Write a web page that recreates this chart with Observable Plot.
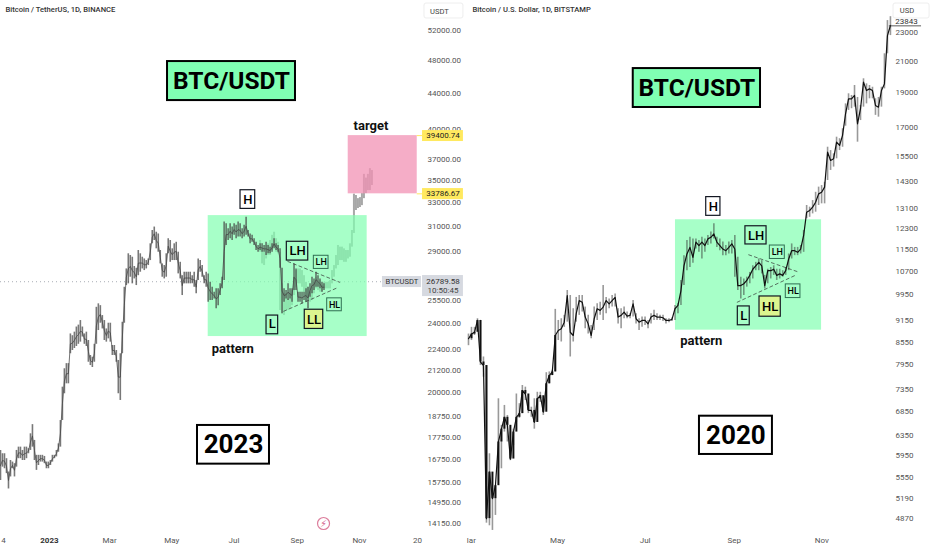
<!DOCTYPE html>
<html><head><meta charset="utf-8">
<style>
html,body{margin:0;padding:0;background:#fff;width:932px;height:550px;overflow:hidden}
#stage{position:relative;width:932px;height:550px;overflow:hidden}
#stage svg{position:absolute;top:0;overflow:visible}
</style>
<script src="https://cdn.jsdelivr.net/npm/d3@7"></script>
<script src="https://cdn.jsdelivr.net/npm/@observablehq/plot@0.6"></script>
</head><body><div id="stage"></div>
<script>
// ---------- left panel (BTC/USDT, 2023): one reading every 47 hours
const leftHigh = [17160,17010,17010,16790,16210,16710,16640,16570,17160,17310,
17310,17160,17310,17310,17240,17930,18370,17620,16940,16940,
16940,16940,16890,16640,16640,16710,16940,16940,17160,17460,
18570,20280,21290,21580,21580,23340,23230,23450,23770,23890,
24180,23770,23340,23450,22940,22050,21950,22710,25040,25270,
25150,24500,24180,23650,24010,24010,22640,22640,22340,21760,
22150,24070,26400,27710,28840,28710,28580,27890,27760,29090,
28840,28580,28450,28330,28450,29610,30670,30950,30530,30390,
29090,28080,27960,28840,30010,29870,29220,29610,29730,28960,
28200,27220,27470,27470,27470,27470,27220,27470,26870,28450,
28330,27960,27220,27470,27350,26750,26400,26060,
26290,26290,26640,27110,31360,31230,30810,31230,30950,31230,
31090,31360,31230,30810,31090,31770,30670,30390,30280,30010,
29730,29480,29610,29610,29480,29730,29480,29350,29610,30010,
29610,29480,29220,27760,26290,26170,26640,26290,26290,28080,
27710,26060,26060,26060,26060,26290,26400,26640,27110,26990,
27470,27220,26990,26750,26640];
const leftLow = [15850,16420,16350,16140,15500,16000,16350,16000,16420,16790,
16790,16710,16710,16790,17010,17160,17310,16710,16280,16490,
16640,16640,16570,16350,16350,16490,16640,16790,16870,17080,
17310,18570,19930,20460,20460,22150,22340,22460,22580,22710,
22840,23150,22710,22580,21660,21470,21360,21660,22710,23550,
24010,23650,22940,22840,23040,22840,22050,22050,21660,19930,
19580,22150,24010,26520,26640,27110,26640,26990,26520,27220,
27470,27710,27590,27710,27960,28330,29610,29870,29220,28960,
28080,27110,26990,27110,28840,28200,28330,28330,28330,27350,
26990,25830,26640,26640,26640,26640,26640,26400,25950,26870,
27470,27110,26640,26400,25380,25490,25490,25600,
24940,25150,25830,26290,26870,29480,29870,30010,29870,30280,
30010,30140,30140,30010,30140,30280,30140,29610,29730,29480,
29090,28960,29090,28960,28960,28710,28840,28840,28960,29220,
29090,28960,27760,24610,25380,25600,25490,25600,25380,26170,
26170,25380,25380,25270,25490,25380,24940,25720,25950,26170,
26400,26400,26290,26060,26170];
// faded projection drawn behind the pattern and target boxes
const ghostOffset = 130;
const ghostHigh = [29870,29220,28960,29480,29610,29870,30280,30530,30010,29730,
28960,26640,25950,25950,25600,25950,26170,27110,27590,27710,
27710,27590,27220,26750,26400,26060,26400,26750,27110,26750,
26870,26520,26750,26750,26750,26870,27590,27960,28710,29480,
29350,29350,29220,29090,29090,29610,30670,33760,33640,33360,
33450,33810,35570,35220,35570,36110,35930];
const ghostLow = [28960,28080,27960,28450,28710,28710,29090,29350,28960,28840,
24830,24610,24500,24830,24830,24940,25150,25830,26400,26640,
26640,26400,26060,25380,25720,25380,25490,25950,26290,26170,
26060,26060,26290,26290,26290,26290,26640,27110,27710,27960,
28330,28330,28200,28200,28450,28580,29350,30430,32330,32500,
32590,32750,33360,33810,34080,34080,34540];
const leftYTicks = [52000,48000,44000,40000,37000,35000,33000,31000,29000,25500,24000,22400,21200,20000,18750,17750,16750,15750,14950,14150];
const leftXDates = ["2022-11-17","2023-03-01","2023-05-01","2023-07-01","2023-09-01","2023-11-01","2023-12-28"];
const leftXLabels = ["4","Mar","May","Jul","Sep","Nov","20"];

// ---------- right panel (BTC/USD, 2020): one reading every 50 hours
const rightHigh = [8770,8960,8960,9210,9160,8150,7930,5980,5350,5400,7130,6550,6980,6760,6410,6470,7240,7020,7440,7400,
7050,6940,7130,7280,7280,7130,7750,7770,7810,9490,9160,9210,9310,10080,9920,9510,9860,9920,9920,9560,
9310,9010,9560,9660,9710,10240,9860,9810,9920,9970,9510,9510,9560,9410,9360,9760,9360,9210,9260,9260,
9160,9360,9460,9360,9310,9310,9210,9210,9230,9610,
9660,10410,11270,11830,11950,11890,11890,11830,11950,11890,12020,12150,12480,11950,11890,11770,11640,11770,11830,12020,
11210,10520,10460,10520,10680,10910,11030,11150,11090,10580,10790,10850,10910,10790,10790,10740,10850,11330,11700,11570,
11570,11640,12210,
13230,13160,13440,13800,14030,14100,14250,15940,15770,15610,16460,16380,16910,18310,18910,18810,19420,18690,18220,19840,
19520,19420,19310,18610,18690,19310,21490,23900,24200];
const rightLow = [8450,8590,8730,8920,7930,7640,4790,4750,4680,4910,5700,5700,6410,6210,5850,6140,6610,6700,6800,7090,
6800,6720,6470,6980,7050,6760,7400,7480,7680,7770,8590,8550,8960,9110,8150,8550,9110,9310,9410,8920,
8770,8640,8870,9160,9310,9160,9360,9510,9560,9560,9060,8920,9210,9210,9210,9260,9060,8870,8960,9010,
8920,9060,9160,9160,9160,9130,9060,9090,9130,9160,
9360,9610,10240,10740,10850,11000,11510,11390,11150,11390,11640,11700,11890,11570,11450,11270,11270,11330,11330,10520,
10080,9810,9920,10190,10300,10460,10740,10740,10630,10130,10300,10460,10580,10410,10460,10520,10580,10740,11150,11270,
11270,11330,11390,
12680,12740,12880,12950,13230,13300,13300,14330,14800,14960,15360,15770,15940,17050,17930,18030,18120,16200,17360,18120,
18310,18610,18610,17650,17550,18120,19210,21490,22780];
const rightClose = [8640,8770,8820,9160,8020,7930,4860,5640,5180,5400,6210,6470,6720,6550,5880,6410,6720,6800,7320,7240,
6870,6870,6610,7130,7200,6830,7480,7680,7770,8730,8870,8920,9110,9920,8820,8730,9360,9760,9710,9260,
9060,8730,9210,9510,9460,9560,9760,9660,9760,9860,9260,9310,9410,9290,9310,9660,9210,9110,9160,9160,
9060,9260,9310,9260,9260,9240,9160,9160,9190,9510,
9610,10080,10910,11330,11570,11210,11770,11640,11770,11640,11890,11950,12080,11770,11640,11510,11450,11570,11700,11510,
10240,10240,10300,10410,10580,10790,10910,11030,10910,10240,10740,10740,10790,10580,10630,10580,10740,11150,11450,11450,
11390,11510,12020,
12950,13020,13160,13370,13730,13800,14030,15690,15280,15360,16200,16030,16560,17740,18610,18610,18810,17180,18030,19630,
19110,19210,19110,18220,18120,19110,19520,22780,23530];
const rightYTicks = [23000,21000,19000,17000,15500,14300,13100,12300,11500,10700,9950,9150,8550,7950,7350,6850,6350,5950,5550,5190,4870];
const rightXDates = ["2020-03-02","2020-05-01","2020-07-01","2020-09-01","2020-11-01"];
const rightXLabels = ["lar","May","Jul","Sep","Nov"];

const leftStart = Date.UTC(2022,10,14), rightStart = Date.UTC(2020,1,29);
const lday = n => new Date(leftStart + n*864e5), rday = n => new Date(rightStart + n*864e5);
const ink = "#131722", font = "Roboto, sans-serif";

const lRows = leftHigh.map((h,i)=>({date:lday(i*47/24),hi:h,lo:leftLow[i],mid:Math.sqrt(h*leftLow[i])}));
const gRows = ghostHigh.map((h,i)=>({date:lday((i+ghostOffset)*47/24),hi:h,lo:ghostLow[i],mid:Math.sqrt(h*ghostLow[i])}));
const rRows = rightHigh.map((h,i)=>({date:rday(i*50/24),hi:h,lo:rightLow[i],c:rightClose[i],o:i?rightClose[i-1]:rightClose[i]}));

// labelled boxes: [text, day1, day2, price1, price2, dayCentre, priceCentre]
const lLabels = [
 ["BTC/USDT",163.8,289.3,47910,43220,226.5,45510],
 ["2023",193.2,263.8,18330,16550,228.5,17420]];
const lMid = [["H",235.4,249.8,34110,32470,242.6,33270],["LH",280.8,301.8,29770,28330,291.3,29040],["L",260.9,272.3,24500,23320,266.6,23950]];
const lHi = [["LL",298.4,316.5,24880,23650,307.4,24250]];
const lSmall = [["LH",307.3,321.7,28690,27710,314.5,28190],["HL",320.4,334.7,25640,24780,327.6,25200]];
const rLabels = [
 ["BTC/USDT",114.7,203.3,20500,18100,159,19260],
 ["2020",160.8,211.6,6744,5967,186.2,6340]];
const rMid = [["H",165.5,175.4,13590,12800,170.5,13190],["LH",192.8,207.5,12380,11680,200.2,12020],["L",187.5,195.8,9580,9020,191.7,9290]];
const rHi = [["HL",202.6,217.4,9890,9270,210,9580]];
const rSmall = [["LH",209.8,220.2,11640,11150,215,11390],["HL",220.9,231.1,10280,9840,226,10060]];

function boxes(rows, day, o){
  return [
    Plot.rect(rows,{x1:r=>day(r[1]),x2:r=>day(r[2]),y1:r=>r[3],y2:r=>r[4],fill:o.fill,fillOpacity:o.fillOpacity??1,stroke:o.stroke,strokeWidth:o.sw}),
    Plot.text(rows,{x:r=>day(r[5]),y:r=>r[6],text:r=>r[0],fontSize:o.fs,fontWeight:o.fw,fill:"#000",fontFamily:font})
  ];
}
const green="#81ffb0", lime="#dcf58f";

const left = Plot.plot({
  width:468,height:550,marginLeft:0,marginRight:48,marginTop:0,marginBottom:22,
  style:{background:"transparent",fontFamily:font,overflow:"visible"},
  x:{type:"utc",domain:[lday(0),lday(411.9)],axis:null},
  y:{type:"log",domain:[13964,56290],axis:null},
  marks:[
    Plot.ruleY([26789.58],{x1:lday(0),x2:lday(374),stroke:"#a9adb5",strokeDasharray:"1,3",strokeWidth:1}),
    Plot.ruleX(gRows,{x:"date",y1:"lo",y2:"hi",stroke:"#a8a8a8",strokeWidth:2}),
    Plot.rect([0],{x1:lday(203.7),x2:lday(359.6),y1:31900,y2:23180,fill:green,fillOpacity:.7}),
    Plot.rect([0],{x1:lday(341),x2:lday(408.7),y1:39400.74,y2:33786.67,fill:"#f291b4",fillOpacity:.75}),
    Plot.ruleX(lRows,{x:"date",y1:"lo",y2:"hi",stroke:"#444",strokeOpacity:.72,strokeWidth:1.6}),
    Plot.line(lRows,{x:"date",y:"mid",stroke:"#444",strokeOpacity:.75,strokeWidth:1}),
    Plot.line([[281.8,28260],[332.7,26750]],{x:d=>lday(d[0]),y:d=>d[1],stroke:"#333",strokeWidth:.7,strokeDasharray:"3,3"}),
    Plot.line([[277.8,24780],[330.2,26360]],{x:d=>lday(d[0]),y:d=>d[1],stroke:"#333",strokeWidth:.7,strokeDasharray:"3,3"}),
    ...boxes(lLabels.slice(0,1),lday,{fill:"#80ffb3",stroke:"#000",sw:2,fs:24.5,fw:700}),
    ...boxes(lLabels.slice(1),lday,{fill:"#fff",stroke:"#000",sw:2,fs:26,fw:700}),
    ...boxes(lMid.slice(0,1),lday,{fill:"#fff",stroke:ink,sw:1.2,fs:13,fw:500}),
    ...boxes(lMid.slice(1),lday,{fill:"none",stroke:ink,sw:1.2,fs:13,fw:500}),
    ...boxes(lHi,lday,{fill:lime,stroke:ink,sw:1.2,fs:13,fw:500}),
    ...boxes(lSmall,lday,{fill:"none",stroke:"#2f6f52",sw:1,fs:9,fw:500}),
    Plot.text(["pattern"],{x:()=>lday(227.8),y:()=>22460,fontSize:13,fontWeight:700,fill:"#111"}),
    Plot.text(["target"],{x:()=>lday(363.4),y:()=>40460,fontSize:13,fontWeight:700,fill:"#111"}),
    Plot.axisY({anchor:"right",ticks:leftYTicks,tickSize:0,tickPadding:7,tickFormat:d=>d.toFixed(2),fontSize:8,fill:"#555",textAnchor:"start"}),
    Plot.axisX({anchor:"bottom",ticks:leftXDates.map(d=>new Date(d)),tickSize:0,tickPadding:9,tickFormat:d=>leftXLabels[leftXDates.indexOf(d.toISOString().slice(0,10))],fontSize:8,fill:"#555"}),
    Plot.axisX({anchor:"bottom",ticks:[new Date("2023-01-01")],tickSize:0,tickPadding:9,tickFormat:()=>"2023",fontSize:8,fontWeight:700,fill:"#333"}),
    Plot.text(["Bitcoin / TetherUS, 1D, BINANCE"],{frameAnchor:"top-left",dx:5,dy:6,fontSize:7.6,fontWeight:500,fill:"#333"}),
    Plot.rect([0],{x1:lday(415.8),x2:lday(454),y1:55840,y2:53680,fill:"#fff",stroke:"#eee",rx:2}),
    Plot.text(["USDT"],{x:()=>lday(430.5),y:()=>54740,fontSize:7.6,fill:"#444"}),
    // price tags
    Plot.rect([0],{x1:lday(413.9),x2:lday(454),y1:39930,y2:38790,fill:"#ffe95f"}),
    Plot.rect([0],{x1:lday(413.9),x2:lday(454),y1:34260,y2:33270,fill:"#ffe95f"}),
    Plot.ruleY([39400.74,33786.67],{x1:lday(408.7),x2:lday(413.9),stroke:"#ffe95f",strokeWidth:1}),
    Plot.text([39400.74,33786.67],{x:()=>lday(434),y:d=>d,text:d=>d.toFixed(2),fontSize:8,fontWeight:400,fill:"#222"}),
    Plot.rect([0],{x1:lday(374.6),x2:lday(412.9),y1:27160,y2:26380,fill:"#d6d9e0"}),
    Plot.rect([0],{x1:lday(413.9),x2:lday(454),y1:27230,y2:25760,fill:"#d6d9e0"}),
    Plot.text(["BTCUSDT"],{x:()=>lday(393.7),y:()=>26789.58,fontSize:7.6,fontWeight:400,fill:"#333"}),
    Plot.text(["26789.58"],{x:()=>lday(434),y:()=>26789.58,fontSize:8,fontWeight:400,fill:"#333"}),
    Plot.text(["10:50:45"],{x:()=>lday(434),y:()=>26170,fontSize:8,fill:"#444"}),
    // badge
    Plot.dot([0],{x:()=>lday(316.8),y:()=>14150,r:6,stroke:"#dc7d9c",strokeWidth:1.2,fill:"#fff"}),
    Plot.text(["⚡"],{x:()=>lday(316.8),y:()=>14150,fontSize:9.5,fill:"#d4608a",fontFamily:"DejaVu Sans"})
  ]
});
left.style.left="0px";

const right = Plot.plot({
  width:466,height:550,marginLeft:0,marginRight:43,marginTop:0,marginBottom:22,
  style:{background:"transparent",fontFamily:font,overflow:"visible"},
  x:{type:"utc",domain:[rday(-1.39),rday(293.1)],axis:null},
  y:{type:"log",domain:[4709,25485],axis:null},
  marks:[
    Plot.rect([0],{x1:rday(144.1),x2:rday(245.8),y1:12640,y2:8880,fill:green,fillOpacity:.7}),
    Plot.ruleX(rRows,{x:"date",y1:"lo",y2:"hi",stroke:"#333",strokeOpacity:.5,strokeWidth:1.6}),
    Plot.line(rRows,{x:"date",y:"c",stroke:"#111",strokeWidth:1.2}),
    Plot.ruleX(rRows.slice(0,30),{x:"date",y1:"o",y2:"c",stroke:"#111",strokeWidth:2}),
    Plot.line([[195.1,11300],[230.6,10680]],{x:d=>rday(d[0]),y:d=>d[1],stroke:"#333",strokeWidth:.7,strokeDasharray:"3,3"}),
    Plot.line([[187.1,9710],[227,10570]],{x:d=>rday(d[0]),y:d=>d[1],stroke:"#333",strokeWidth:.7,strokeDasharray:"3,3"}),
    ...boxes(rLabels.slice(0,1),rday,{fill:"#80ffb3",stroke:"#000",sw:2,fs:24.5,fw:700}),
    ...boxes(rLabels.slice(1),rday,{fill:"#fff",stroke:"#000",sw:2,fs:26,fw:700}),
    ...boxes(rMid.slice(0,1),rday,{fill:"#fff",stroke:ink,sw:1.2,fs:13,fw:500}),
    ...boxes(rMid.slice(1),rday,{fill:"none",stroke:ink,sw:1.2,fs:13,fw:500}),
    ...boxes(rHi,rday,{fill:lime,stroke:ink,sw:1.2,fs:13,fw:500}),
    ...boxes(rSmall,rday,{fill:"none",stroke:"#2f6f52",sw:1,fs:9,fw:500}),
    Plot.text(["pattern"],{x:()=>rday(162.1),y:()=>8570,fontSize:13,fontWeight:700,fill:"#111"}),
    Plot.axisY({anchor:"right",ticks:rightYTicks,tickSize:0,tickPadding:6,tickFormat:d=>String(d),fontSize:8,fill:"#555",textAnchor:"start"}),
    Plot.axisX({anchor:"bottom",ticks:rightXDates.map(d=>new Date(d)),tickSize:0,tickPadding:9,tickFormat:d=>rightXLabels[rightXDates.indexOf(d.toISOString().slice(0,10))],fontSize:8,fill:"#555"}),
    Plot.text(["Bitcoin / U.S. Dollar, 1D, BITSTAMP"],{frameAnchor:"top-left",dx:6,dy:6,fontSize:7.6,fontWeight:500,fill:"#333"}),
    Plot.rect([0],{x1:rday(295.9),x2:rday(321),y1:25240,y2:24060,fill:"#fff",stroke:"#eee",rx:2}),
    Plot.text(["USD"],{x:()=>rday(305.3),y:()=>24640,fontSize:7.6,fill:"#444"}),
    Plot.text(["23843"],{x:()=>rday(305),y:()=>23830,fontSize:8,fill:"#333"}),
    Plot.ruleY([23500],{x1:rday(293),x2:rday(315.4),stroke:"#333",strokeWidth:.8})
  ]
});
right.style.left="466px";
document.getElementById("stage").append(left,right);
</script></body></html>
